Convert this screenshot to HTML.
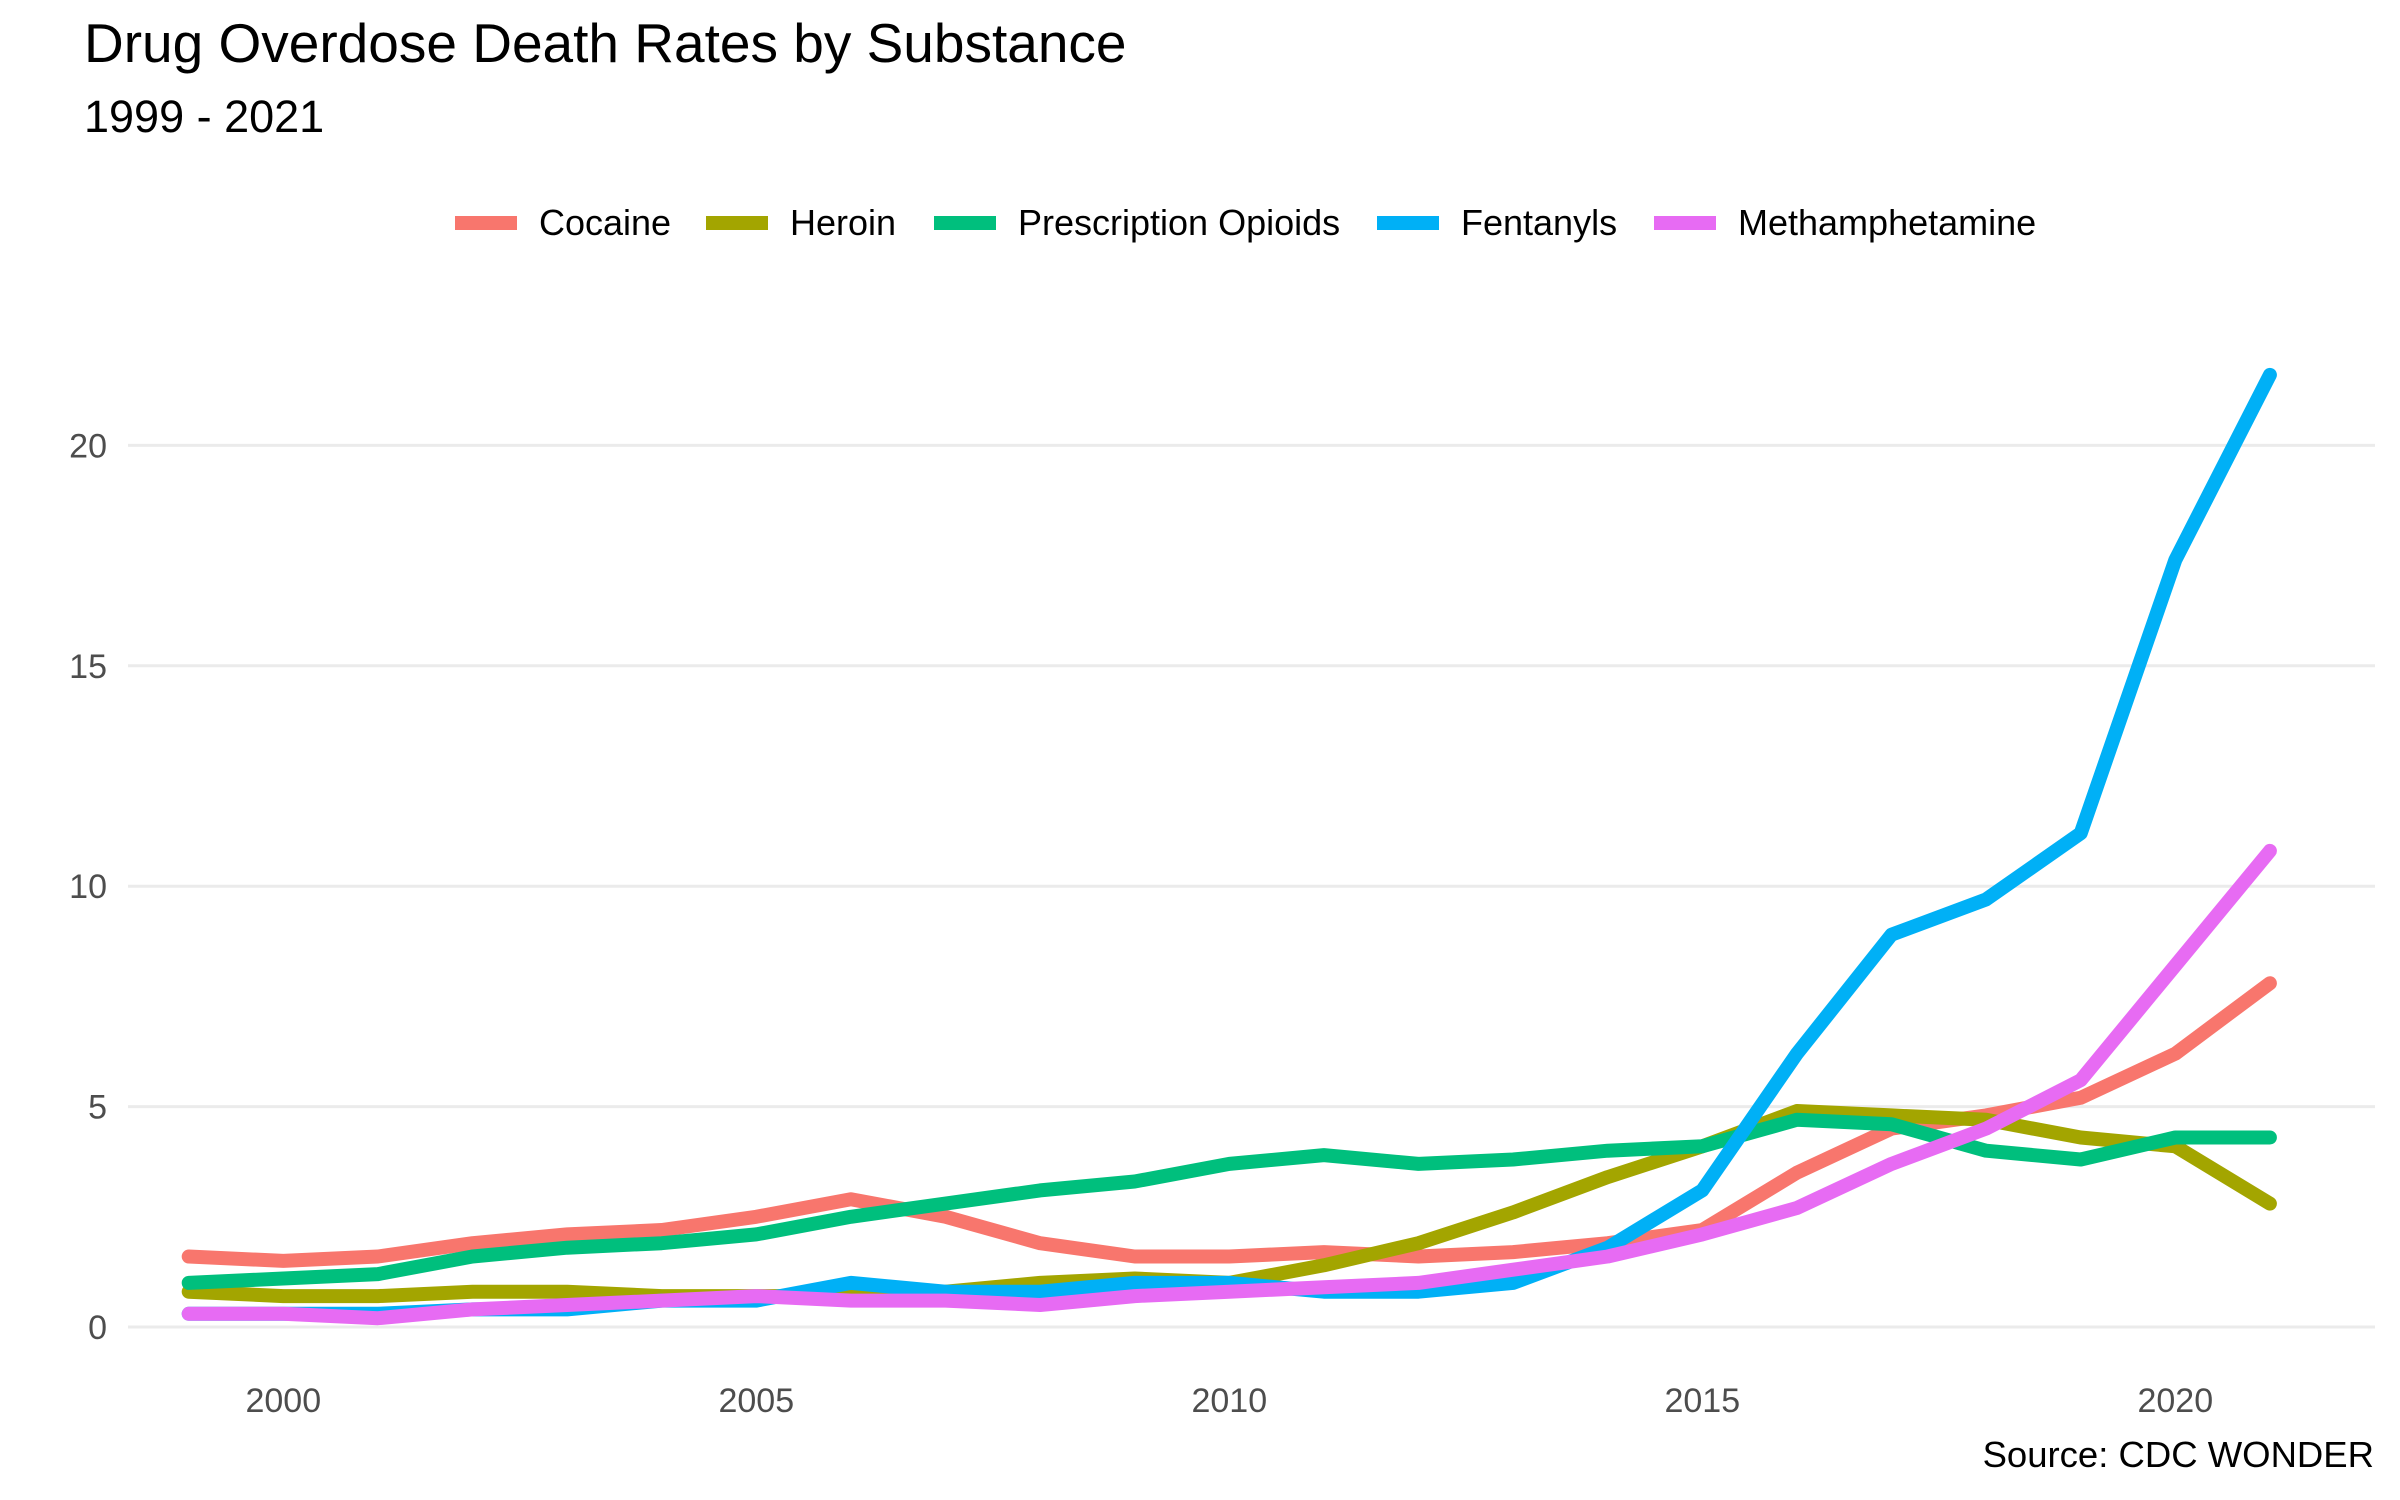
<!DOCTYPE html>
<html><head><meta charset="utf-8"><style>
body{margin:0;background:#fff}
svg{display:block;font-family:"Liberation Sans",sans-serif}
</style></head><body>
<svg id="chart" width="2400" height="1500" viewBox="0 0 2400 1500">
<text x="84" y="62" font-size="55" fill="#000">Drug Overdose Death Rates by Substance</text>
<text x="84" y="132" font-size="45" fill="#000">1999 - 2021</text>
<g id="grid"></g><g id="lines"></g><g id="legend"></g>
<text x="2374" y="1467" font-size="36.5" text-anchor="end" fill="#000">Source: CDC WONDER</text>
</svg>
<script>
const years=[1999,2000,2001,2002,2003,2004,2005,2006,2007,2008,2009,2010,2011,2012,2013,2014,2015,2016,2017,2018,2019,2020,2021];
const seriesNames=["Cocaine","Heroin","Prescription Opioids","Fentanyls","Methamphetamine"];
const cocaine=[1.6,1.5,1.6,1.9,2.1,2.2,2.5,2.9,2.5,1.9,1.6,1.6,1.7,1.6,1.7,1.9,2.2,3.5,4.5,4.8,5.2,6.2,7.8];
const heroin=[0.8,0.7,0.7,0.8,0.8,0.7,0.7,0.7,0.8,1.0,1.1,1.0,1.4,1.9,2.6,3.4,4.1,4.9,4.8,4.7,4.3,4.1,2.8];
const rxOpioids=[1.0,1.1,1.2,1.6,1.8,1.9,2.1,2.5,2.8,3.1,3.3,3.7,3.9,3.7,3.8,4.0,4.1,4.7,4.6,4.0,3.8,4.3,4.3];
const fentanyls=[0.3,0.3,0.3,0.4,0.4,0.6,0.6,1.0,0.8,0.8,1.0,1.0,0.8,0.8,1.0,1.8,3.1,6.2,8.9,9.7,11.2,17.4,21.6];
const meth=[0.3,0.3,0.2,0.4,0.5,0.6,0.7,0.6,0.6,0.5,0.7,0.8,0.9,1.0,1.3,1.6,2.1,2.7,3.7,4.5,5.6,8.2,10.8];
const yTicks=[0,5,10,15,20];
const xTicks=[2000,2005,2010,2015,2020];
const colors=["#F8766D","#A3A500","#00BF7D","#00B0F6","#E76BF3"];
const allSeries=[cocaine,heroin,rxOpioids,fentanyls,meth];
const NS="http://www.w3.org/2000/svg";
const xS=y=>283.3+(y-2000)*94.6;
const yS=v=>1327-v*44.08;
function mk(t,a,p){const e=document.createElementNS(NS,t);for(const k in a)e.setAttribute(k,a[k]);p.appendChild(e);return e;}
const grid=document.getElementById('grid');
yTicks.forEach(v=>{
 const l=mk('line',{x1:128,x2:2375,y1:yS(v),y2:yS(v),stroke:'#ebebeb','stroke-width':3},grid);
 
 
 const t=mk('text',{x:107,y:yS(v)+12,'font-size':34,fill:'#4d4d4d','text-anchor':'end'},grid);
 t.textContent=v;
 
 
});
xTicks.forEach(v=>{
 const t=mk('text',{x:xS(v),y:1412,'font-size':34,fill:'#4d4d4d','text-anchor':'middle'},grid);
 t.textContent=v;
 
 
});
const lines=document.getElementById('lines');
allSeries.forEach((s,i)=>{
 const d=s.map((v,j)=>(j?'L':'M')+xS(years[j]).toFixed(1)+','+yS(v).toFixed(1)).join('');
 const p=mk('path',{d:d,fill:'none',stroke:colors[i],'stroke-width':14,'stroke-linejoin':'round','stroke-linecap':'round'},lines);
 
 
});
const legend=document.getElementById('legend');
const keyX=[451,702,930,1373,1650];
seriesNames.forEach((n,i)=>{
 const g=mk('g',{},legend);
 
 
 mk('line',{x1:keyX[i]+4,x2:keyX[i]+66,y1:223,y2:223,stroke:colors[i],'stroke-width':14},g);
 const t=mk('text',{x:keyX[i]+88,y:235,'font-size':36,fill:'#000'},g);
 t.textContent=n;
});
</script>
</body></html>
